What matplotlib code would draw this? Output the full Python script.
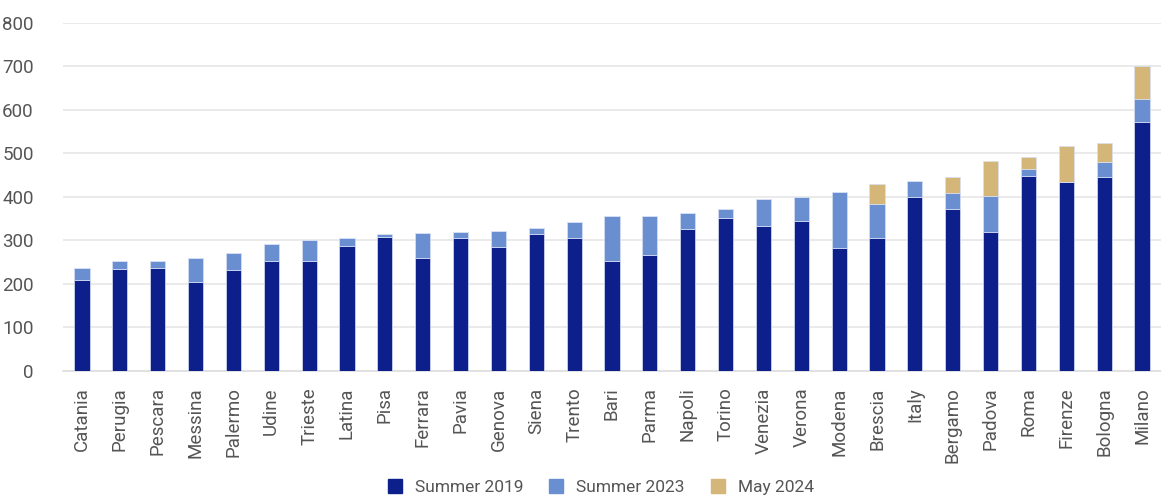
import matplotlib
matplotlib.use("Agg")
import matplotlib.pyplot as plt
import numpy as np
from matplotlib.lines import Line2D

cities = ["Catania", "Perugia", "Pescara", "Messina", "Palermo", "Udine", "Trieste",
          "Latina", "Pisa", "Ferrara", "Pavia", "Genova", "Siena", "Trento", "Bari",
          "Parma", "Napoli", "Torino", "Venezia", "Verona", "Modena", "Brescia",
          "Italy", "Bergamo", "Padova", "Roma", "Firenze", "Bologna", "Milano"]
summer_2019 = [209, 234, 236, 205, 231, 252, 253, 288, 308, 260, 306, 285, 315, 305,
               253, 267, 326, 351, 334, 345, 283, 306, 400, 373, 320, 449, 434, 445, 573]
summer_2023 = [236, 252, 252, 259, 270, 292, 300, 305, 314, 316, 318, 321, 329, 342,
               355, 356, 362, 372, 395, 400, 411, 384, 436, 410, 403, 463, 434, 481, 625]
may_2024 = [None] * 21 + [430, None, 446, 482, 492, 517, 523, 700]
yticks = [0, 100, 200, 300, 400, 500, 600, 700, 800]
series_names = ["Summer 2019", "Summer 2023", "May 2024"]

c19, c23, c24 = "#0D1F8A", "#6A8FD0", "#D4B679"
txt = "#555555"
plt.rcParams['font.family'] = ['Roboto', 'DejaVu Sans']

fig = plt.figure(figsize=(11.61, 4.98), dpi=100)
ax = fig.add_axes([63/1161, 1 - 370.7/498, 1 - 63/1161, (370.7 - 23)/498])

x = np.arange(len(cities))
s19 = np.array(summer_2019, float)
s23 = np.array(summer_2023, float)
s24 = np.array([np.nan if v is None else v for v in may_2024], float)
inc23 = np.clip(s23 - s19, 0, None)
top23 = s19 + inc23
inc24 = np.where(np.isnan(s24), 0, np.clip(s24 - top23, 0, None))

w = 0.4
ec = dict(edgecolor="#d8e0f5", linewidth=0.5)
ax.bar(x, s19, w, color=c19, zorder=3, **ec)
ax.bar(x, inc23, w, bottom=s19, color=c23, zorder=3, **ec)
ax.bar(x, inc24, w, bottom=top23, color=c24, zorder=3, **ec)

ax.set_xlim(-0.5, len(cities) - 0.5)
ax.set_ylim(0, 800)
ax.set_yticks(yticks)
ax.set_yticklabels([str(v) for v in yticks])
ax.yaxis.grid(True, color="#e6e6e6", linewidth=1.2, zorder=0)
ax.set_axisbelow(True)
for s in ["top", "right", "left"]:
    ax.spines[s].set_visible(False)
ax.spines["bottom"].set_color("#dddddd")
ax.spines["bottom"].set_linewidth(1.2)
ax.tick_params(axis="both", length=0, labelsize=13.5, labelcolor=txt)
ax.tick_params(axis="y", pad=21)
ax.tick_params(axis="x", pad=12)
ax.set_xticks(x)
ax.set_xticklabels(cities, rotation=90, va="top", ha="center")

handles = [Line2D([], [], marker="s", linestyle="none", markersize=10, color=c)
           for c in (c19, c23, c24)]
fig.legend(handles, series_names, loc="lower center", ncol=3, frameon=False,
           bbox_to_anchor=(0.513, -0.025), fontsize=12.5, labelcolor=txt,
           handletextpad=0.15, columnspacing=0.9)

fig.savefig("out.png", dpi=100)
